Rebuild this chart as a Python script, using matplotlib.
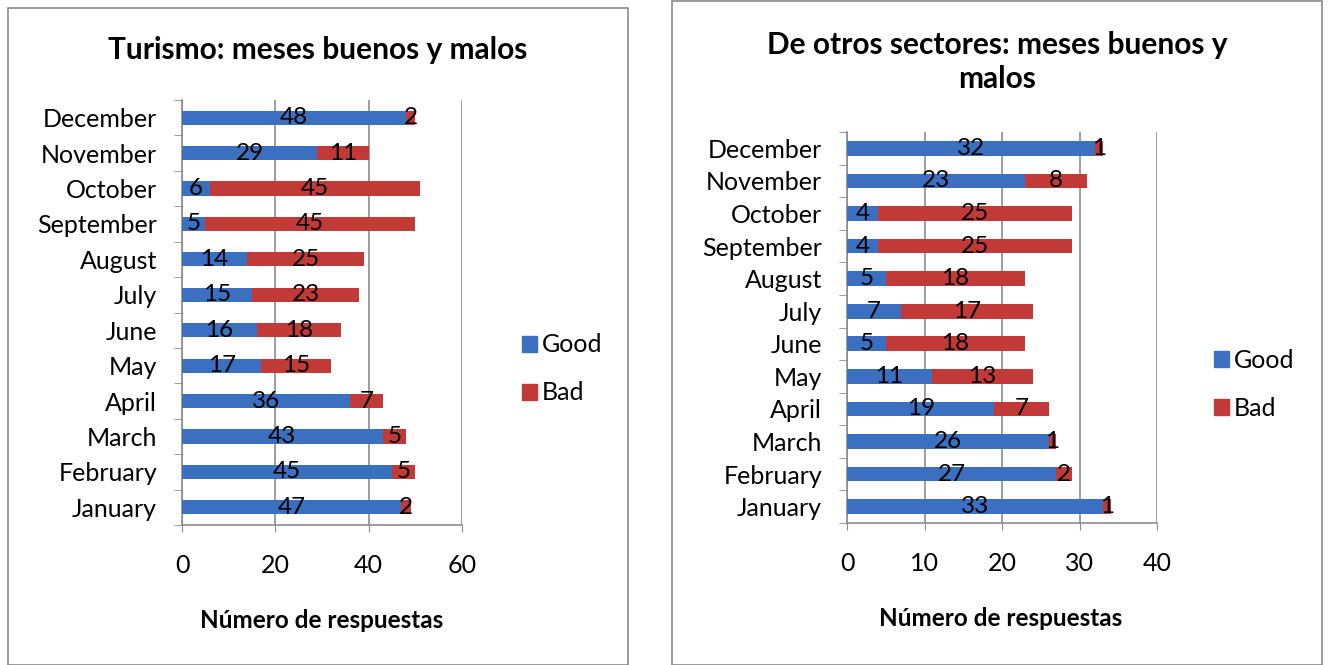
import matplotlib.pyplot as plt
from matplotlib.patches import Rectangle, Patch

months = ['January', 'February', 'March', 'April', 'May', 'June', 'July',
          'August', 'September', 'October', 'November', 'December']

tur_good = [47, 45, 43, 36, 17, 16, 15, 14, 5, 6, 29, 48]
tur_bad = [2, 5, 5, 7, 15, 18, 23, 25, 45, 45, 11, 2]

otr_good = [33, 27, 26, 19, 11, 5, 7, 5, 4, 4, 23, 32]
otr_bad = [1, 2, 1, 7, 13, 18, 17, 18, 25, 25, 8, 1]

BLUE = '#3b6fbf'
RED = '#c23a38'
GRID = '#8c8c8c'

plt.rcParams['font.family'] = ['Lato', 'DejaVu Sans']

fig = plt.figure(figsize=(13.28, 6.65), dpi=100)

# chart frames
fig.patches.append(Rectangle((8 / 1328, 0), 620 / 1328, 657 / 665, transform=fig.transFigure,
                             fill=False, edgecolor='#8a8a8a', linewidth=1.2))
fig.patches.append(Rectangle((672 / 1328, 0), 650 / 1328, 664 / 665, transform=fig.transFigure,
                             fill=False, edgecolor='#8a8a8a', linewidth=1.2))


def draw(ax, good, bad, xmax, step, height):
    y = range(len(months))
    c1 = ax.barh(y, good, height=height, color=BLUE, label='Good', zorder=3)
    c2 = ax.barh(y, bad, left=good, height=height, color=RED, label='Bad', zorder=3)
    ax.bar_label(c1, label_type='center', fontsize=17.5, zorder=4)
    ax.bar_label(c2, label_type='center', fontsize=17.5, zorder=4)
    ax.set_xlim(0, xmax)
    ax.set_ylim(-0.5, len(months) - 0.5)
    ax.set_xticks(range(0, xmax + 1, step))
    ax.set_yticks(list(y))
    ax.set_yticklabels(months)
    ax.set_yticks([i - 0.5 for i in range(len(months) + 1)], minor=True)
    ax.tick_params(axis='y', which='major', length=0, labelsize=18, pad=18)
    ax.tick_params(axis='y', which='minor', length=6, color=GRID, direction='out')
    ax.tick_params(axis='x', length=5, color=GRID, labelsize=18, pad=16)
    ax.grid(axis='x', color=GRID, linewidth=1.2, zorder=0)
    for s in ['top', 'right']:
        ax.spines[s].set_visible(False)
    for s in ['left', 'bottom']:
        ax.spines[s].set_color(GRID)
        ax.spines[s].set_linewidth(1.2)


ax1 = fig.add_axes([182 / 1328, 1 - 525 / 665, 280 / 1328, 425 / 665])
draw(ax1, tur_good, tur_bad, 60, 20, 0.4)

ax2 = fig.add_axes([847 / 1328, 1 - 523 / 665, 310 / 1328, 391 / 665])
draw(ax2, otr_good, otr_bad, 40, 10, 0.45)

fig.text(318 / 1328, 1 - 50 / 665, 'Turismo: meses buenos y malos', ha='center', va='center',
         fontsize=21.5, fontweight='bold')
fig.text(997 / 1328, 1 - 62 / 665, 'De otros sectores: meses buenos y\nmalos', ha='center',
         va='center', fontsize=21.5, fontweight='bold', linespacing=1.3)

fig.text(322 / 1328, 1 - 620 / 665, 'Número de respuestas', ha='center', va='center',
         fontsize=17.5, fontweight='bold')
fig.text(1001 / 1328, 1 - 618 / 665, 'Número de respuestas', ha='center', va='center',
         fontsize=17.5, fontweight='bold')

handles = [Patch(color=BLUE, label='Good'), Patch(color=RED, label='Bad')]
for xl, yc in [(512, 369), (1204, 384)]:
    fig.legend(handles=handles, loc='center left', bbox_to_anchor=(xl / 1328, 1 - yc / 665),
               frameon=False, fontsize=18, handlelength=0.6, handleheight=0.6,
               handletextpad=0.2, labelspacing=1.0, borderaxespad=0)

fig.savefig('out.png', dpi=100)
